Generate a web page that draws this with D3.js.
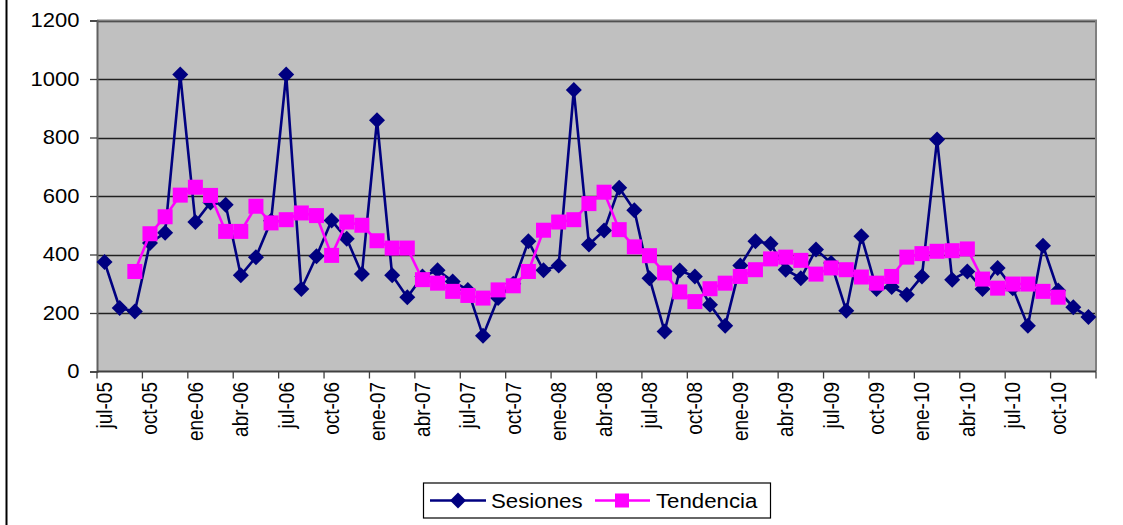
<!DOCTYPE html>
<html><head><meta charset="utf-8">
<script src="https://cdn.jsdelivr.net/npm/d3@7/dist/d3.min.js"></script>
<style>
body{margin:0;background:#fff;}
text{font-family:"Liberation Sans",Arial,sans-serif;fill:#000;}
</style></head>
<body><svg id="c" width="1123" height="525"></svg>
<script>
const monthNames = ["jul","ago","sep","oct","nov","dic","ene","feb","mar","abr","may","jun"];
const years = [5,5,5,5,5,5,6,6,6,6,6,6,6,6,6,6,6,6,7,7,7,7,7,7,7,7,7,7,7,7,8,8,8,8,8,8,8,8,8,8,8,8,9,9,9,9,9,9,9,9,9,9,9,9,10,10,10,10,10,10,10,10,10,10,10,10];
const categories = years.map((y,i)=>monthNames[i%12]+"-"+String(y).padStart(2,"0"));
const sesiones = [374,217,205,439,474,1015,511,578,570,329,391,515,1015,282,394,516,454,333,859,329,254,325,346,308,279,122,251,300,445,346,362,962,434,482,628,551,319,137,345,325,228,156,362,445,437,348,319,417,371,208,462,282,289,262,325,793,314,342,282,354,285,156,430,277,220,186];
const tendencia = [null,null,342,471,529,603,630,602,479,479,565,508,519,542,533,397,511,500,447,422,422,314,302,274,260,251,279,293,342,483,511,519,574,613,485,426,396,337,272,239,283,302,325,348,385,391,380,333,354,348,323,302,325,391,403,411,413,419,316,285,299,299,274,254,null,null];
const yTicks = [0,200,400,600,800,1000,1200];

const svg = d3.select("#c");
const L=97, R=1096, T=20.5, B=371.5;
const x = d3.scaleBand().domain(categories).range([L,R]);
const y = d3.scaleLinear().domain([0,1200]).range([B,T]);
const cx = d => x(d)+x.bandwidth()/2;

// chart area left border
svg.append("line").attr("x1",6.5).attr("x2",6.5).attr("y1",0).attr("y2",525).attr("stroke","#000").attr("stroke-width",2);

// plot area
svg.append("rect").attr("x",L).attr("y",T).attr("width",R-L).attr("height",B-T).attr("fill","#c0c0c0");
// gridlines
svg.append("g").selectAll("line").data(yTicks.filter(v=>v>0)).join("line")
  .attr("x1",L).attr("x2",R).attr("y1",d=>Math.round(y(d))+0.5).attr("y2",d=>Math.round(y(d))+0.5)
  .attr("stroke","#202020").attr("stroke-width",1.3);
// border top/right
svg.append("path").attr("d",`M${L},${T}H${R}V${B}`).attr("fill","none").attr("stroke","#808080").attr("stroke-width",2);

// y axis
const yAxis = d3.axisLeft(y).tickValues(yTicks).tickSize(7).tickPadding(9).tickFormat(d3.format("d"));
const gy = svg.append("g").attr("transform",`translate(${L},0)`).call(yAxis);
gy.select(".domain").attr("stroke","#606060").attr("stroke-width",2);
gy.selectAll(".tick line").attr("stroke","#404040").attr("stroke-width",1.3);
gy.selectAll("text").attr("font-size",20).attr("font-family","Liberation Sans, Arial, sans-serif").attr("fill","#000")
  .attr("transform","scale(1.1,1)");

// x axis: ticks at every 3rd band boundary
const xg = svg.append("g");
xg.append("line").attr("x1",L).attr("x2",R).attr("y1",B).attr("y2",B).attr("stroke","#404040").attr("stroke-width",2);
const tickCats = categories.filter((d,i)=>i%3===0);
xg.selectAll("line.t").data(tickCats.concat(["__end"])).join("line").attr("class","t")
  .attr("x1",d=>d==="__end"?R:x(d)).attr("x2",d=>d==="__end"?R:x(d))
  .attr("y1",B).attr("y2",B+7).attr("stroke","#404040").attr("stroke-width",1.3);
xg.selectAll("text").data(tickCats).join("text")
  .attr("transform",d=>`translate(${cx(d)+7.5},382) rotate(-90) scale(1,1.12)`)
  .attr("text-anchor","end").attr("font-size",19).text(d=>d);

// lines
const lineGen = d3.line().defined(d=>d.v!=null).x(d=>cx(d.c)).y(d=>y(d.v));
const sesData = categories.map((c,i)=>({c,v:sesiones[i]}));
const tenData = categories.map((c,i)=>({c,v:tendencia[i]}));

svg.append("path").datum(sesData).attr("d",lineGen).attr("fill","none").attr("stroke","#000080").attr("stroke-width",2.6);
svg.append("g").selectAll("path").data(sesData).join("path")
  .attr("d",d=>`M${cx(d.c)},${y(d.v)-8}l8,8l-8,8l-8,-8z`).attr("fill","#000080");

svg.append("path").datum(tenData).attr("d",lineGen).attr("fill","none").attr("stroke","#ff00ff").attr("stroke-width",2.6);
svg.append("g").selectAll("rect").data(tenData.filter(d=>d.v!=null)).join("rect")
  .attr("x",d=>cx(d.c)-7.5).attr("y",d=>y(d.v)-7.5).attr("width",15).attr("height",15).attr("fill","#ff00ff");

// legend
const lg = svg.append("g");
lg.append("rect").attr("x",423.5).attr("y",483).attr("width",347).attr("height",35).attr("fill","#fff").attr("stroke","#000").attr("stroke-width",1.2);
lg.append("line").attr("x1",430).attr("x2",486).attr("y1",500.5).attr("y2",500.5).attr("stroke","#000080").attr("stroke-width",2.6);
lg.append("path").attr("d","M458,492.5l8,8l-8,8l-8,-8z").attr("fill","#000080");
lg.append("text").attr("transform","translate(491,508) scale(1.06,1)").attr("font-size",21).text("Sesiones");
lg.append("line").attr("x1",595).attr("x2",650).attr("y1",500.5).attr("y2",500.5).attr("stroke","#ff00ff").attr("stroke-width",2.6);
lg.append("rect").attr("x",615).attr("y",493.5).attr("width",14).attr("height",14).attr("fill","#ff00ff");
lg.append("text").attr("transform","translate(656,508) scale(1.06,1)").attr("font-size",21).text("Tendencia");
</script></body></html>
